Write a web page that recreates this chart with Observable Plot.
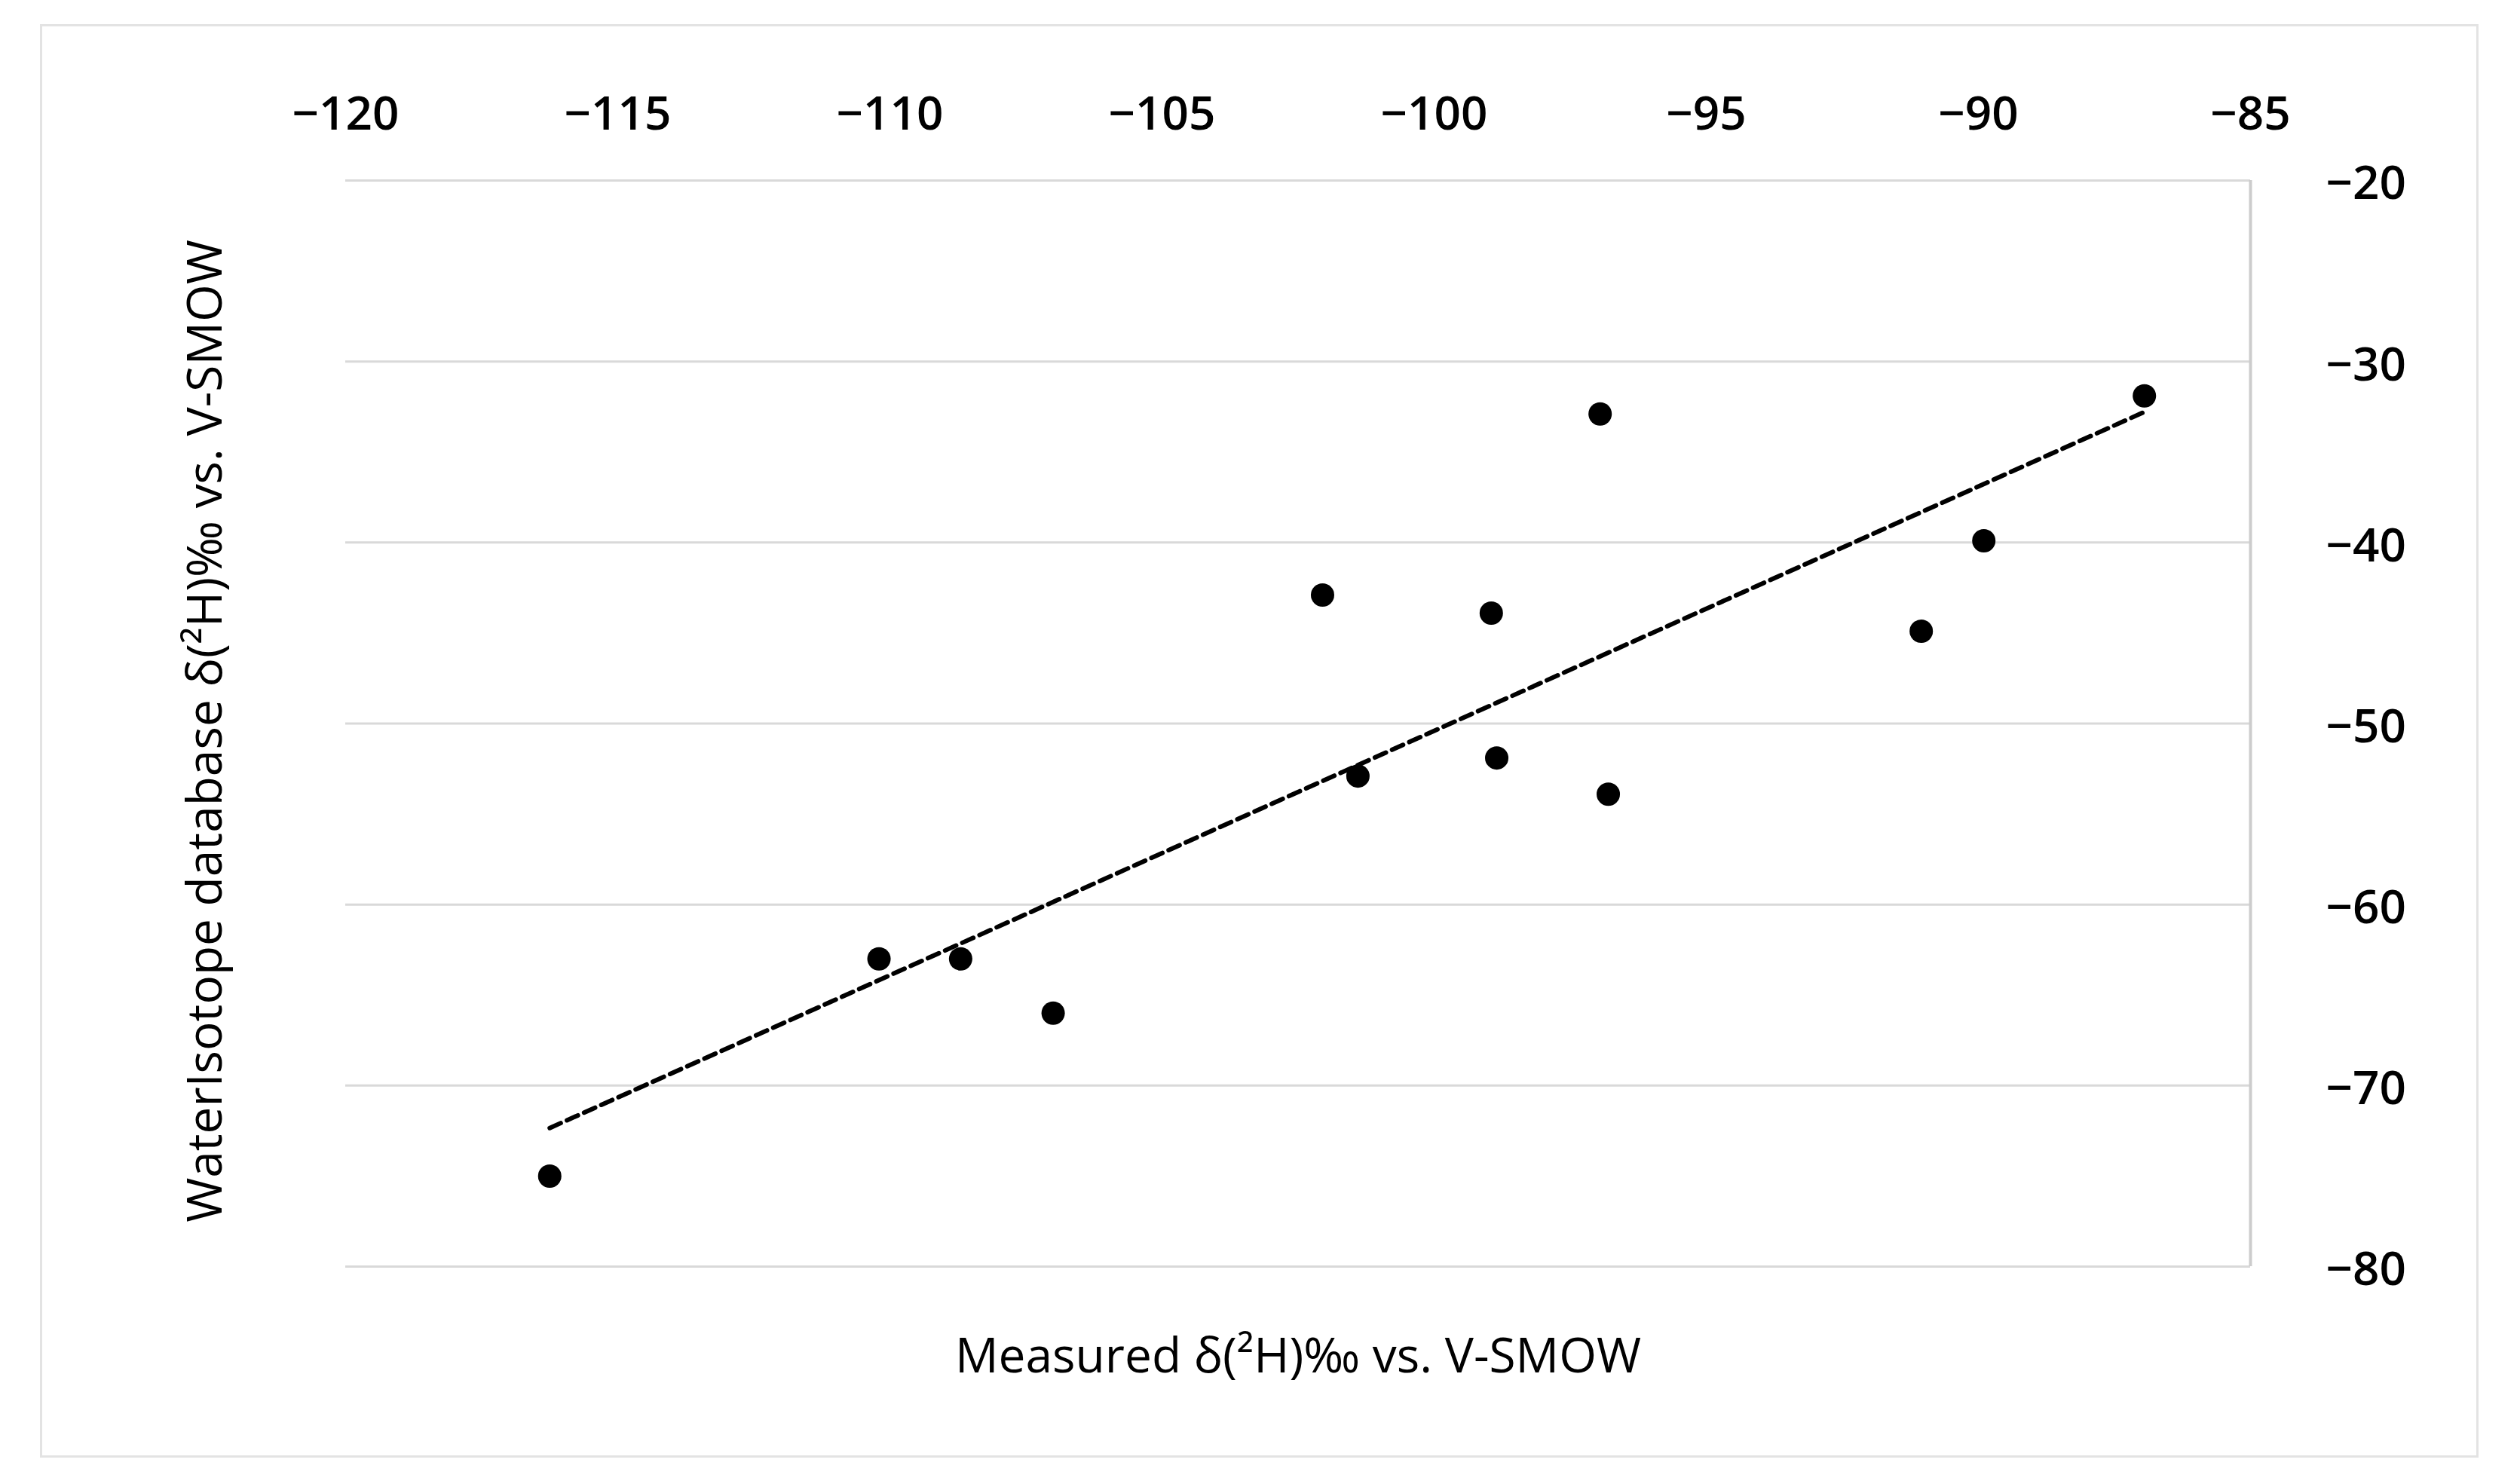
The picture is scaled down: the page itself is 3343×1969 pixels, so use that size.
<!DOCTYPE html>
<html>
<head>
<meta charset="utf-8">
<script src="https://cdn.jsdelivr.net/npm/d3@7"></script>
<script src="https://cdn.jsdelivr.net/npm/@observablehq/plot@0.6"></script>
<style>
  html, body { margin: 0; padding: 0; background: #fff; }
  #wrap { position: relative; width: 3343px; height: 1969px; }
  #border { position: absolute; left: 53px; top: 32px; width: 3235px; height: 1902px; border: 3px solid #e3e3e3; box-sizing: border-box; pointer-events: none; }
  #chart { position: absolute; left: 0; top: 0; }
</style>
</head>
<body>
<div id="wrap"><div id="border"></div><div id="chart"></div></div>
<script>
// Measured δ(2H) (x) vs WaterIsotope database δ(2H) (y)
const measured = [-116.25, -110.2, -108.7, -107.0, -102.05, -101.4, -98.95, -98.85, -96.95, -96.8, -91.05, -89.9, -86.95];
const database = [-75.0, -63.0, -63.0, -66.0, -42.9, -52.9, -43.9, -51.9, -32.9, -53.9, -44.9, -39.9, -31.9];
const xTicks = [-120, -115, -110, -105, -100, -95, -90, -85];
const yTicks = [-20, -30, -40, -50, -60, -70, -80];
const xTitle = "Measured δ(²H)‰ vs. V-SMOW";
const yTitle = "WaterIsotope database δ(²H)‰ vs. V-SMOW";

const data = measured.map((x, i) => ({x, y: database[i]}));
const font = "'Open Sans', 'Noto Sans', sans-serif";

const chart = Plot.plot({
  width: 3343,
  height: 1969,
  marginLeft: 458,
  marginRight: 358,
  marginTop: 239,
  marginBottom: 289,
  style: {fontFamily: font, background: "transparent", color: "#000"},
  x: {domain: [-120, -85]},
  y: {domain: [-80, -20]},
  marks: [
    Plot.gridY(yTicks, {stroke: "#d9d9d9", strokeOpacity: 1, strokeWidth: 3}),
    Plot.ruleX([-85], {stroke: "#cccccc", strokeWidth: 4}),
    Plot.axisX(xTicks, {anchor: "top", tickSize: 0, tickPadding: 68, fontSize: 62, fontWeight: 600, label: null, fill: "#000"}),
    Plot.axisY(yTicks, {anchor: "right", tickSize: 0, tickPadding: 100, fontSize: 62, fontWeight: 600, dy: 5, label: null, fill: "#000", textAnchor: "start"}),
    Plot.linearRegressionY(data, {x: "x", y: "y", stroke: "#000", strokeWidth: 6, strokeDasharray: "16,9", ci: 0}),
    Plot.dot(data, {x: "x", y: "y", r: 15.5, fill: "#000", stroke: "none"}),
    Plot.text([xTitle], {frameAnchor: "bottom", dy: 140, fontSize: 64, fill: "#000"}),
    Plot.text([yTitle], {frameAnchor: "left", textAnchor: "middle", rotate: -90, dx: -185, dy: 10, fontSize: 64, fill: "#000"})
  ]
});
document.getElementById("chart").appendChild(chart);
</script>
</body>
</html>
